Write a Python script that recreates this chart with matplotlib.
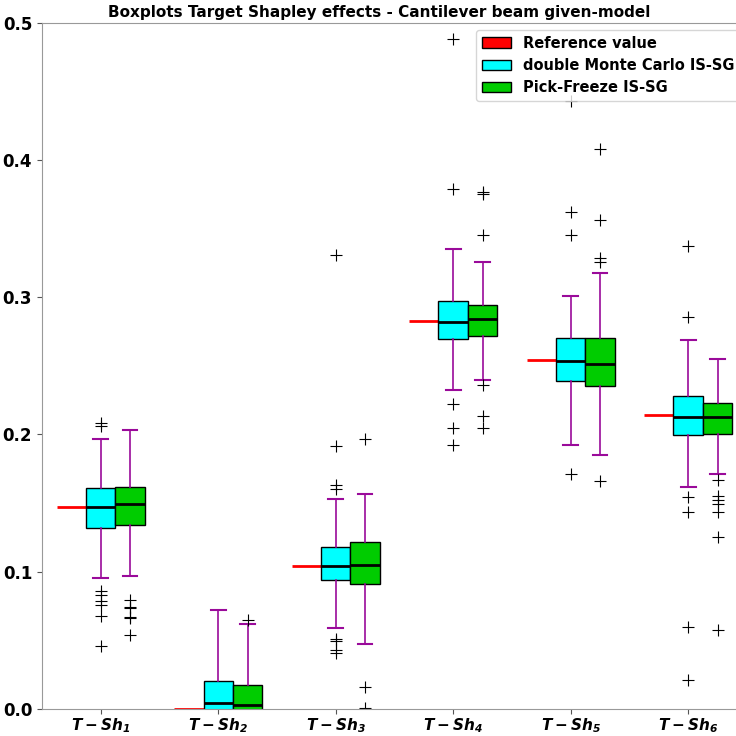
import matplotlib
matplotlib.use('Agg')
import matplotlib.pyplot as plt
from matplotlib.patches import Patch

labels = [r'$\mathbfit{T-Sh_%d}$' % i for i in range(1, 7)]

# Reference values
ref = [0.1468, 0.0, 0.104, 0.2823, 0.2543, 0.2139]

# double Monte Carlo IS-SG box stats
dmc_q1 = [0.132, -0.003, 0.0939, 0.2695, 0.2387, 0.1998]
dmc_med = [0.147, 0.0041, 0.104, 0.282, 0.2537, 0.2127]
dmc_q3 = [0.161, 0.0199, 0.1182, 0.297, 0.270, 0.2283]
dmc_lo = [0.0953, -0.03, 0.0587, 0.2323, 0.192, 0.1613]
dmc_hi = [0.197, 0.0717, 0.153, 0.3352, 0.301, 0.269]
dmc_fliers = [
    [0.206, 0.208, 0.086, 0.083, 0.0788, 0.0754, 0.0678, 0.0454],
    [],
    [0.331, 0.1916, 0.163, 0.1605, 0.0505, 0.0494, 0.0431, 0.0404],
    [0.488, 0.3787, 0.2222, 0.205, 0.1922],
    [0.443, 0.362, 0.345, 0.171],
    [0.337, 0.2855, 0.154, 0.1435, 0.0597, 0.0208],
]

# Pick-Freeze IS-SG box stats
pf_q1 = [0.1337, -0.003, 0.0909, 0.2714, 0.235, 0.2001]
pf_med = [0.149, 0.0031, 0.1051, 0.2842, 0.2512, 0.213]
pf_q3 = [0.162, 0.017, 0.1215, 0.2946, 0.270, 0.2228]
pf_lo = [0.0968, -0.03, 0.0475, 0.2397, 0.1848, 0.1714]
pf_hi = [0.203, 0.0618, 0.1564, 0.3257, 0.3176, 0.2546]
pf_fliers = [
    [0.0793, 0.0739, 0.0732, 0.0669, 0.0662, 0.0535],
    [0.0649],
    [0.197, 0.0158, 0.0008],
    [0.3765, 0.3754, 0.3456, 0.2361, 0.2132, 0.205],
    [0.408, 0.356, 0.3285, 0.3255, 0.1659],
    [0.1668, 0.155, 0.152, 0.149, 0.1435, 0.1255, 0.0572],
]


def make_stats(q1, med, q3, lo, hi, fl):
    return [dict(q1=a, med=b, q3=c, whislo=d, whishi=e, fliers=f)
            for a, b, c, d, e, f in zip(q1, med, q3, lo, hi, fl)]


def draw(ax, stats, positions, color):
    purple = '#9a0a9a'
    ax.bxp(stats, positions=positions, widths=0.25, patch_artist=True,
           boxprops=dict(facecolor=color, edgecolor='black', linewidth=1),
           medianprops=dict(color='black', linewidth=2),
           whiskerprops=dict(color=purple, linewidth=1.2),
           capprops=dict(color=purple, linewidth=1.5),
           flierprops=dict(marker='+', markeredgecolor='black', markersize=8,
                           markeredgewidth=0.8),
           manage_ticks=False)


fig, ax = plt.subplots(figsize=(7.36, 7.36), dpi=100)
# right edge of the axes sits past the figure, like the cropped original
fig.subplots_adjust(left=0.057, right=1.026, bottom=0.037, top=0.969)

pos = [1, 2, 3, 4, 5, 6]
for p, r in zip(pos, ref):
    ax.hlines(r, p - 0.375, p - 0.125, color='red', linewidth=2, zorder=1)

draw(ax, make_stats(dmc_q1, dmc_med, dmc_q3, dmc_lo, dmc_hi, dmc_fliers),
     [p for p in pos], 'cyan')
draw(ax, make_stats(pf_q1, pf_med, pf_q3, pf_lo, pf_hi, pf_fliers),
     [p + 0.25 for p in pos], '#00cc00')

ax.set_xlim(0.5, 6.57)
ax.set_ylim(0, 0.5)
ax.set_xticks(pos)
ax.set_xticklabels(labels, fontsize=11)
ax.tick_params(axis='x', pad=2)
ax.set_yticks([0.0, 0.1, 0.2, 0.3, 0.4, 0.5])
ax.set_yticklabels(['0.0', '0.1', '0.2', '0.3', '0.4', '0.5'],
                   fontsize=12, fontweight='bold')
for s in ax.spines.values():
    s.set_color('#999999')
ax.tick_params(colors='#555555', labelcolor='black')
ax.set_title('Boxplots Target Shapley effects - Cantilever beam given-model',
             fontsize=11, fontweight='bold', pad=4, x=0.4727)

handles = [Patch(facecolor='red', edgecolor='black', label='Reference value'),
           Patch(facecolor='cyan', edgecolor='black', label='double Monte Carlo IS-SG'),
           Patch(facecolor='#00cc00', edgecolor='black', label='Pick-Freeze IS-SG')]
ax.legend(handles=handles, loc='upper left', bbox_to_anchor=(0.6087, 0.99),
          borderaxespad=0, prop=dict(weight='bold', size=10.5))

fig.savefig('out.png', dpi=100)
